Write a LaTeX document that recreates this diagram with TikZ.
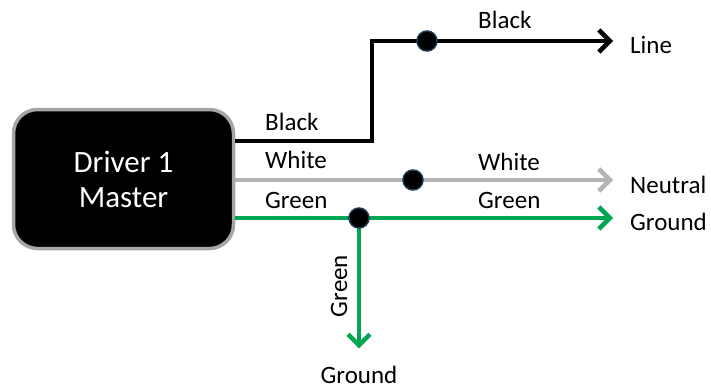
\documentclass[tikz,border=0pt]{standalone}
\usepackage{fontspec}
\setmainfont{Carlito}
\usetikzlibrary{arrows.meta}
\definecolor{wiregreen}{RGB}{0,166,81}
\definecolor{wiregray}{RGB}{180,180,180}
\definecolor{dotblue}{RGB}{30,55,85}
\begin{document}
\begin{tikzpicture}[x=1pt, y=-1pt,
    driverbox/.style={rectangle, rounded corners=24pt, minimum width=220pt, minimum height=139pt, align=center, draw=black!35, line width=3.5pt, fill=black, text=white, font=\fontsize{31}{35}\selectfont},
    junction/.style={circle, inner sep=0pt, minimum size=20pt, fill=black, draw=dotblue, line width=1.5pt},
    wirelabel/.style={anchor=base west, inner sep=0pt, font=\fontsize{25}{30}\selectfont},
    blackwire/.style={line width=4.5pt, draw=black},
    whitewire/.style={line width=4.5pt, draw=wiregray},
    greenwire/.style={line width=4.5pt, draw=wiregreen},
    arrow/.style={-{Straight Barb[length=11pt, width=22pt]}, shorten >=17pt}]

    \useasboundingbox (0,0) rectangle (711,388);

    \node (driver) [driverbox] at (123.5,179) {Driver 1\\Master};
    \coordinate (bend) at (372,141);
    \coordinate (jline) at (427,41);
    \coordinate (jneutral) at (413,180);
    \coordinate (jground) at (359,218);
    \node (line) [wirelabel] at (630,53) {Line};
    \node (neutral) [wirelabel] at (630,193) {Neutral};
    \node (ground) [wirelabel] at (630,230) {Ground};
    \node (groundb) [wirelabel, anchor=base] at (359,383) {Ground};

    \draw [blackwire] (driver.east |- bend) -- (bend) |- (jline);
    \draw [blackwire, arrow] (jline) -- (jline -| line.west);
    \draw [whitewire] (driver.east |- jneutral) -- (jneutral);
    \draw [whitewire, arrow] (jneutral) -- (jneutral -| neutral.west);
    \draw [greenwire] (driver.east |- jground) -- (jground);
    \draw [greenwire, arrow] (jground) -- (jground -| ground.west);
    \draw [greenwire, arrow] (jground) -- (groundb.north);

    \node (blacka) [wirelabel] at (265,130) {Black};
    \node (whitea) [wirelabel] at (265,168) {White};
    \node (greena) [wirelabel] at (265,208) {Green};
    \node (blackb) [wirelabel] at (478,28) {Black};
    \node (whiteb) [wirelabel] at (478,170) {White};
    \node (greenb) [wirelabel] at (478,208) {Green};
    \node (greenc) [wirelabel, anchor=base, rotate=90] at (347,286) {Green};

    \node (dotline) [junction] at (jline) {};
    \node (dotneutral) [junction] at (jneutral) {};
    \node (dotground) [junction] at (jground) {};

  \end{tikzpicture}
\end{document}
